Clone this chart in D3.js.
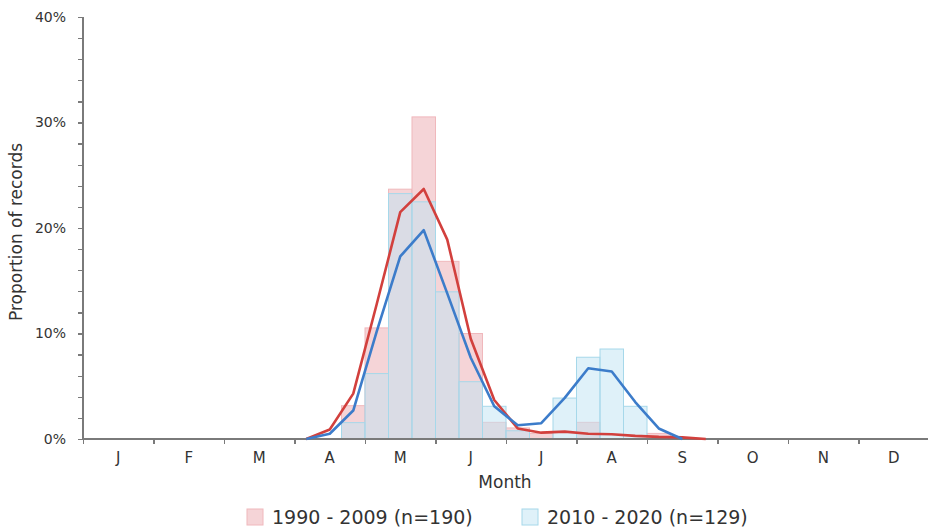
<!DOCTYPE html>
<meta charset="utf-8">
<head>
<style>
body { margin: 0; background: #fff; font-family: "DejaVu Sans", sans-serif; }
.axis path, .axis line { stroke: #7a7a7a; stroke-width: 1.3px; fill: none; shape-rendering: crispEdges; }
.axis text { fill: #333; font-family: "DejaVu Sans", sans-serif; }
.line { fill: none; stroke-width: 2.6px; stroke-linejoin: round; }
</style>
<script src="https://d3js.org/d3.v7.min.js"></script>
</head>
<body>
<div id="chart"></div>
<script>

var months = ["J", "F", "M", "A", "M", "J", "J", "A", "S", "O", "N", "D"];
var yTicks = [0, 10, 20, 30, 40];

// ten-day bins (3 per month), bins 11..24 hold the records, in % of records
var binStart = 11;
var bars9009 = [3.16, 10.53, 23.68, 30.53, 16.84, 10.0, 1.58, 1.05, 0.53, 0, 1.58, 0, 0, 0.53];
var bars1020 = [1.55, 6.2, 23.26, 22.48, 13.95, 5.43, 3.1, 0.78, 0, 3.88, 7.75, 8.53, 3.1, 0];

// smoothed curves, starting at bin 9
var lineStart = 9;
var line9009 = [0, 0.9, 4.3, 12.8, 21.5, 23.7, 18.9, 9.5, 3.7, 1.0, 0.6, 0.7, 0.5, 0.45, 0.3, 0.2, 0.15, 0];
var line1020 = [0, 0.5, 2.7, 10.2, 17.3, 19.8, 13.8, 7.7, 3.1, 1.3, 1.5, 3.9, 6.7, 6.4, 3.5, 1.0, 0];

var legendLabels = ["1990 - 2009 (n=190)", "2010 - 2020 (n=129)"];

var width = 928, height = 529;

var svg = d3.select("#chart").append("svg")
  .attr("width", width)
  .attr("height", height);

var x = d3.scaleLinear().domain([0, 36]).range([83, 929]);
var y = d3.scaleLinear().domain([0, 40]).range([439, 17]);

// bars: older period first, newer period semi-transparent on top
svg.append("g").selectAll("rect")
  .data(bars9009)
  .enter().append("rect")
    .attr("x", function(d, i) { return x(binStart + i); })
    .attr("y", function(d) { return y(d); })
    .attr("width", x(1) - x(0))
    .attr("height", function(d) { return y(0) - y(d); })
    .attr("fill", "#f5d4d7")
    .attr("stroke", "#f0b8bc")
    .attr("stroke-width", 1)
    .style("display", function(d) { return d > 0 ? null : "none"; });

svg.append("g").selectAll("rect")
  .data(bars1020)
  .enter().append("rect")
    .attr("x", function(d, i) { return x(binStart + i); })
    .attr("y", function(d) { return y(d); })
    .attr("width", x(1) - x(0))
    .attr("height", function(d) { return y(0) - y(d); })
    .attr("fill", "rgba(191,227,243,0.5)")
    .attr("stroke", "#a6d8ea")
    .attr("stroke-width", 1)
    .style("display", function(d) { return d > 0 ? null : "none"; });

// axes
var yAxis = svg.append("g")
  .attr("class", "axis")
  .attr("transform", "translate(" + x(0) + ",0)")
  .call(d3.axisLeft(y).tickValues(d3.range(0, 41, 2)).tickSize(5)
    .tickFormat(function(d) { return yTicks.indexOf(d) >= 0 ? d + "%" : ""; }));
yAxis.selectAll("text").style("font-size", "14px").attr("x", -17);
yAxis.select(".domain").attr("d", "M0," + y(40) + "V" + y(0));

var xAxis = svg.append("g")
  .attr("class", "axis")
  .attr("transform", "translate(0," + y(0) + ")")
  .call(d3.axisBottom(x).tickValues(d3.range(0, 37, 3)).tickSize(5).tickFormat(""));
xAxis.select(".domain").attr("d", "M" + x(0) + ",0H" + x(36));

svg.append("g").selectAll("text")
  .data(months)
  .enter().append("text")
    .attr("x", function(d, i) { return x(i * 3 + 1.5); })
    .attr("y", y(0) + 24)
    .attr("text-anchor", "middle")
    .style("font-size", "15px")
    .attr("fill", "#333")
    .text(function(d) { return d; });

svg.append("text")
  .attr("x", 505)
  .attr("y", 488)
  .attr("text-anchor", "middle")
  .style("font-size", "17px")
  .attr("fill", "#333")
  .text("Month");

svg.append("text")
  .attr("transform", "translate(22," + 232 + ") rotate(-90)")
  .attr("text-anchor", "middle")
  .style("font-size", "17px")
  .attr("fill", "#333")
  .text("Proportion of records");

// smoothed lines
var line = d3.line()
  .x(function(d) { return x(d.bin + 0.5); })
  .y(function(d) { return y(d.v); });

function toPoints(arr, start) {
  return arr.map(function(v, i) { return {bin: start + i, v: v}; });
}

svg.append("path")
  .attr("class", "line")
  .attr("stroke", "#d2403d")
  .attr("d", line(toPoints(line9009, lineStart)));

svg.append("path")
  .attr("class", "line")
  .attr("stroke", "#3c7cca")
  .attr("d", line(toPoints(line1020, lineStart)));

// legend
var legend = [
  {label: legendLabels[0], x: 247, fill: "#f5d4d7", stroke: "#f0b8bc"},
  {label: legendLabels[1], x: 522, fill: "#dff1f9", stroke: "#a6d8ea"}
];
var lg = svg.append("g").selectAll("g")
  .data(legend)
  .enter().append("g")
  .attr("transform", function(d) { return "translate(" + d.x + ",509)"; });
lg.append("rect")
  .attr("width", 16).attr("height", 16)
  .attr("fill", function(d) { return d.fill; })
  .attr("stroke", function(d) { return d.stroke; });
lg.append("text")
  .attr("x", 25)
  .attr("y", 15)
  .style("font-size", "19px")
  .attr("fill", "#333")
  .text(function(d) { return d.label; });

</script>
</body>
</html>
